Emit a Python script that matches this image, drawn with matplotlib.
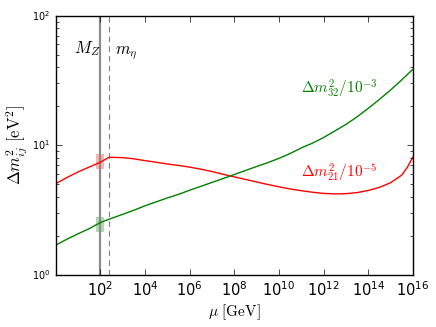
import numpy as np
import matplotlib
matplotlib.use('Agg')
import matplotlib.pyplot as plt
from matplotlib.ticker import FixedLocator, NullLocator, LogLocator, NullFormatter

plt.style.use('classic')
plt.rcParams['mathtext.fontset'] = 'cm'
plt.rcParams['font.family'] = 'DejaVu Sans'

# running scale mu [GeV], given as log10(mu)
log_mu = [0.0, 0.5, 1.0, 1.5, 2.0, 2.38, 3.0, 3.5, 4.0, 4.5, 5.0, 5.5, 6.0,
          6.5, 7.0, 7.5, 8.0, 8.5, 9.0, 9.5, 10.0, 10.5, 11.0, 11.5, 12.0,
          12.5, 13.0, 13.5, 14.0, 14.5, 15.0, 15.5, 15.75, 16.0]
# Delta m^2_21 / 1e-5  [eV^2]
dm21 = [5.07, 5.65, 6.24, 6.81, 7.41, 8.09, 8.04, 7.87, 7.62, 7.41, 7.18, 7.00,
        6.79, 6.55, 6.28, 5.98, 5.71, 5.46, 5.22, 4.99, 4.79, 4.61, 4.47, 4.35,
        4.26, 4.22, 4.24, 4.32, 4.49, 4.74, 5.15, 5.89, 6.76, 8.13]
# Delta m^2_32 / 1e-3  [eV^2]
dm32 = [1.70, 1.89, 2.08, 2.28, 2.54, 2.69, 2.94, 3.16, 3.42, 3.67, 3.93, 4.19,
        4.51, 4.83, 5.18, 5.55, 5.96, 6.40, 6.87, 7.36, 7.94, 8.65, 9.55, 10.4,
        11.5, 12.9, 14.5, 16.6, 19.3, 22.6, 26.7, 32.0, 35.2, 38.6]

MZ = 91.19
m_eta = 240.0
# experimental bands at M_Z
band_mu = [66.0, 150.0]
band21 = [6.57, 8.58]
band32 = [2.15, 2.80]

mu = 10.0 ** np.array(log_mu)

fig = plt.figure(figsize=(4.36, 3.27), dpi=100, facecolor='white')
ax = fig.add_axes([0.128, 0.159, 0.819, 0.793])

ax.fill_between(band_mu, band21[0], band21[1], color='r', alpha=0.3, lw=0)
ax.fill_between(band_mu, band32[0], band32[1], color='g', alpha=0.3, lw=0)

ax.axvline(MZ, color='0.55', lw=1.6)
ax.axvline(m_eta, color='0.5', lw=0.8, ls='--', dashes=(4, 3))

ax.plot(mu, dm21, color='r', lw=1.0)
ax.plot(mu, dm32, color='g', lw=1.0)

ax.set_xscale('log')
ax.set_yscale('log')
ax.set_xlim(1.0, 1e16)
ax.set_ylim(1.0, 100.0)

ax.xaxis.set_major_locator(FixedLocator([10.0**k for k in range(2, 17, 2)]))
ax.xaxis.set_minor_locator(NullLocator())
ax.yaxis.set_minor_locator(LogLocator(base=10, subs=np.arange(2, 10)))
ax.yaxis.set_minor_formatter(NullFormatter())

ax.tick_params(axis='x', which='major', labelsize=10.5, pad=4)
ax.tick_params(axis='y', which='major', labelsize=7, pad=4)
for lab in ax.get_xticklabels():
    lab.set_math_fontfamily('cm')
for lab in ax.get_yticklabels():
    lab.set_math_fontfamily('dejavusans')

ax.set_xlabel(r'$\mu\ [\mathrm{GeV}]$', fontsize=11, labelpad=2)
ax.set_ylabel(r'$\Delta m^2_{ij}\ [\mathrm{eV}^2]$', fontsize=12, labelpad=2)

ax.text(0.05, 0.855, r'$M_Z$', transform=ax.transAxes, fontsize=12)
ax.text(0.165, 0.855, r'$m_\eta$', transform=ax.transAxes, fontsize=12)
ax.text(0.686, 0.70, r'$\Delta m^2_{32}/10^{-3}$', transform=ax.transAxes,
        fontsize=11, color='g')
ax.text(0.686, 0.375, r'$\Delta m^2_{21}/10^{-5}$', transform=ax.transAxes,
        fontsize=11, color='r')

fig.savefig('out.png', dpi=100, facecolor='white')
